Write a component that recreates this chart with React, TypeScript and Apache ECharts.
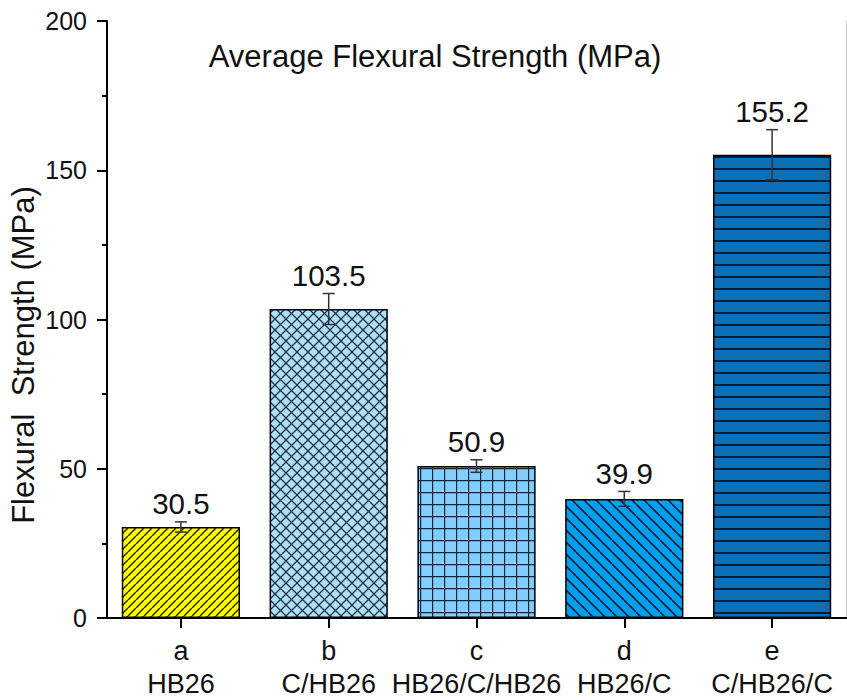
import React, { useEffect, useRef } from "react";
import * as echarts from "echarts";

const categories = ["a", "b", "c", "d", "e"];
const sampleNames = ["HB26", "C/HB26", "HB26/C/HB26", "HB26/C", "C/HB26/C"];
const values = [30.5, 103.5, 50.9, 39.9, 155.2];
const errors = [1.7, 5.2, 2.1, 2.5, 8.4];
const yTicks = { min: 0, max: 200, interval: 50 };
const titleText = "Average Flexural Strength (MPa)";
const yName = "Flexural  Strength (MPa)";

const FONT = "'Liberation Sans', Arial, sans-serif";

function makePattern(bg: string, size: number, draw: (ctx: CanvasRenderingContext2D, s: number) => void) {
  const c = document.createElement("canvas");
  c.width = size;
  c.height = size;
  const ctx = c.getContext("2d")!;
  ctx.fillStyle = bg;
  ctx.fillRect(0, 0, size, size);
  draw(ctx, size);
  return { image: c, repeat: "repeat", imageWidth: size, imageHeight: size } as any;
}

function slash(ctx: CanvasRenderingContext2D, s: number) {
  ctx.beginPath();
  for (let k = -1; k <= 1; k++) {
    ctx.moveTo(k * s, s);
    ctx.lineTo(k * s + s, 0);
  }
  ctx.stroke();
}
function backslash(ctx: CanvasRenderingContext2D, s: number) {
  ctx.beginPath();
  for (let k = -1; k <= 1; k++) {
    ctx.moveTo(k * s, 0);
    ctx.lineTo(k * s + s, s);
  }
  ctx.stroke();
}

export default function App() {
  const ref = useRef<HTMLDivElement>(null);
  useEffect(() => {
    if (!ref.current) return;
    const chart = echarts.init(ref.current, null, { renderer: "svg" });

    const patterns = [
      makePattern("#FFFF00", 8, (ctx, s) => {
        ctx.strokeStyle = "#2a2a10";
        ctx.lineWidth = 1.5;
        slash(ctx, s);
      }),
      makePattern("#AEE0FA", 11, (ctx, s) => {
        ctx.strokeStyle = "#1c3444";
        ctx.lineWidth = 1.3;
        slash(ctx, s);
        backslash(ctx, s);
      }),
      makePattern("#82CFFF", 12, (ctx, s) => {
        ctx.strokeStyle = "#10283a";
        ctx.lineWidth = 1.4;
        ctx.beginPath();
        ctx.moveTo(0.5, 0);
        ctx.lineTo(0.5, s);
        ctx.moveTo(0, 0.5);
        ctx.lineTo(s, 0.5);
        ctx.stroke();
      }),
      makePattern("#00A0F0", 12, (ctx, s) => {
        ctx.strokeStyle = "#0a2036";
        ctx.lineWidth = 1.6;
        backslash(ctx, s);
      }),
      makePattern("#0A6FB6", 12, (ctx, s) => {
        ctx.strokeStyle = "#0b1c30";
        ctx.lineWidth = 2;
        ctx.beginPath();
        ctx.moveTo(0, 1);
        ctx.lineTo(s, 1);
        ctx.stroke();
      }),
    ];

    const option: any = {
      animation: false,
      backgroundColor: "#ffffff",
      textStyle: { fontFamily: FONT },
      grid: { left: 107, right: 1, top: 21, bottom: 82, containLabel: false },
      xAxis: [
        {
          type: "category",
          data: categories,
          boundaryGap: true,
          axisLine: { show: true, lineStyle: { color: "#000", width: 2 } },
          axisTick: { show: true, alignWithLabel: true, length: 10, lineStyle: { color: "#000", width: 2 } },
          axisLabel: {
            show: true,
            interval: 0,
            hideOverlap: false,
            margin: 16,
            color: "#111",
            fontSize: 27,
            lineHeight: 33,
            fontFamily: FONT,
            formatter: (v: string, i: number) => `${v}\n${sampleNames[i]}`,
          },
          splitLine: { show: false },
        },
        {
          type: "category",
          data: categories,
          position: "top",
          axisLine: { show: true, lineStyle: { color: "#000", width: 2 } },
          axisTick: { show: false },
          axisLabel: { show: false },
          splitLine: { show: false },
        },
      ],
      yAxis: [
        {
          type: "value",
          min: yTicks.min,
          max: yTicks.max,
          interval: yTicks.interval,
          axisLine: { show: true, lineStyle: { color: "#000", width: 2 } },
          axisTick: { show: true, inside: false, length: 10, lineStyle: { color: "#000", width: 2 } },
          minorTick: { show: true, splitNumber: 2, length: 5, lineStyle: { color: "#000", width: 2 } },
          axisLabel: { margin: 20, color: "#111", fontSize: 25, fontFamily: FONT },
          splitLine: { show: false },
        },
        {
          type: "value",
          min: yTicks.min,
          max: yTicks.max,
          interval: yTicks.interval,
          position: "right",
          axisLine: { show: true, lineStyle: { color: "#cfcfcf", width: 1 } },
          axisTick: { show: false },
          axisLabel: { show: false },
          splitLine: { show: false },
        },
      ],
      graphic: [
        {
          type: "text",
          x: 435,
          y: 56,
          style: { text: titleText, fontSize: 31, fontFamily: FONT, fill: "#111", align: "center", verticalAlign: "middle" },
        },
        {
          type: "text",
          x: 23,
          y: 355,
          rotation: Math.PI / 2,
          style: { text: yName, fontSize: 31, fontFamily: FONT, fill: "#111", align: "center", verticalAlign: "middle" },
        },
      ],
      series: [
        {
          type: "bar",
          barWidth: "80%",
          data: values.map((v, i) => ({
            value: v,
            itemStyle: { color: patterns[i], borderColor: "#000", borderWidth: 1.5 },
          })),
        },
        {
          type: "custom",
          data: values.map((v, i) => [i, v, errors[i]]),
          renderItem: (params: any, api: any) => {
            const i = api.value(0);
            const v = api.value(1);
            const e = api.value(2);
            const top = api.coord([i, v + e]);
            const bot = api.coord([i, v - e]);
            const x = top[0];
            const cap = 6;
            const ls = { stroke: "#333", lineWidth: 1.5 };
            return {
              type: "group",
              children: [
                { type: "line", shape: { x1: x, y1: top[1], x2: x, y2: bot[1] }, style: ls },
                { type: "line", shape: { x1: x - cap, y1: top[1], x2: x + cap, y2: top[1] }, style: ls },
                { type: "line", shape: { x1: x - cap, y1: bot[1], x2: x + cap, y2: bot[1] }, style: ls },
                {
                  type: "text",
                  x: x,
                  y: top[1] - 18,
                  style: {
                    text: values[i].toFixed(1),
                    fontSize: 29.5,
                    fontFamily: FONT,
                    fill: "#111",
                    align: "center",
                    verticalAlign: "middle",
                  },
                },
              ],
            };
          },
          z: 10,
        },
      ],
    };
    chart.setOption(option);
    return () => chart.dispose();
  }, []);
  return (
    <div
      ref={ref}
      style={{ position: "fixed", left: 0, top: 0, width: 847, height: 700, background: "#fff" }}
    />
  );
}
